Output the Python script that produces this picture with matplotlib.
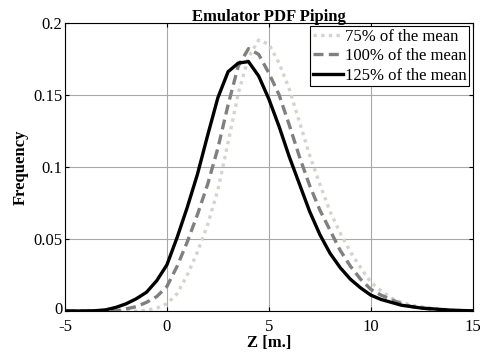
import matplotlib
matplotlib.use('Agg')
import matplotlib.pyplot as plt
import matplotlib.transforms as mtransforms

plt.rcParams['font.family'] = ['Liberation Serif', 'DejaVu Serif']

# valeurs
z = [-5, -4.5, -4, -3.5, -3, -2.5, -2, -1.5, -1, -0.5, 0, 0.5, 1, 1.5, 2, 2.5,
     3, 3.5, 4, 4.5, 5, 5.5, 6, 6.5, 7, 7.5, 8, 8.5, 9, 9.5, 10, 10.5, 11,
     11.5, 12, 12.5, 13, 13.5, 14, 14.5, 15]

f75 = [0, 0, 0, 0, 0, 0, 0, 0, 0.0005, 0.002, 0.005, 0.012, 0.025, 0.041,
       0.060, 0.084, 0.117, 0.151, 0.176, 0.188, 0.185, 0.172, 0.154, 0.131,
       0.108, 0.088, 0.069, 0.054, 0.041, 0.030, 0.020, 0.014, 0.009, 0.006,
       0.004, 0.003, 0.002, 0.0012, 0.0007, 0.0003, 0.0001]

f100 = [0, 0, 0, 0, 0, 0, 0.0015, 0.003, 0.006, 0.010, 0.017, 0.031, 0.048,
        0.067, 0.088, 0.113, 0.143, 0.170, 0.182, 0.178, 0.165, 0.150, 0.129,
        0.107, 0.087, 0.070, 0.056, 0.042, 0.031, 0.022, 0.015, 0.011, 0.008,
        0.005, 0.003, 0.002, 0.0012, 0.0007, 0.0004, 0.0002, 0.0001]

f125 = [0, 0, 0, 0.0002, 0.0008, 0.0025, 0.005, 0.0085, 0.013, 0.021, 0.032,
        0.051, 0.072, 0.095, 0.122, 0.148, 0.166, 0.172, 0.173, 0.163, 0.147,
        0.128, 0.107, 0.088, 0.069, 0.053, 0.040, 0.030, 0.022, 0.016, 0.011,
        0.008, 0.006, 0.004, 0.003, 0.002, 0.0015, 0.001, 0.0005, 0.0003,
        0.0001]

labels = ['75% of the mean', '100% of the mean', '125% of the mean']

fig = plt.figure(figsize=(4.81, 3.52), dpi=100)
ax = fig.add_axes([0.135, 0.1165, 0.848, 0.819])

ax.plot(z, f75, color='#d6d3cc', lw=2.4, linestyle=(0, (1, 1.3)), label=labels[0])
ax.plot(z, f100, color='#808080', lw=2.4, linestyle=(0, (3, 1.6)), label=labels[1])
ax.plot(z, f125, color='black', lw=2.4, label=labels[2])

ax.set_xlim(-5, 15)
ax.set_ylim(0, 0.2)
ax.set_xticks([-5, 0, 5, 10, 15])
ax.set_yticks([0, 0.05, 0.1, 0.15, 0.2])
ax.set_xticklabels(['-5', '0', '5', '10', '15'])
ax.set_yticklabels(['0', '0.05', '0.1', '0.15', '0.2'])
ax.grid(True, color='#a8a8a8', lw=0.8)
ax.tick_params(direction='in', top=True, right=True, labelsize=12, length=3)
ax.tick_params(axis='x', pad=6)
ax.tick_params(axis='y', pad=2)
for s in ax.spines.values():
    s.set_linewidth(0.8)

# petit decalage du "0" de l'axe y pour ne pas toucher le "-5"
lab0 = ax.get_yticklabels()[0]
lab0.set_transform(lab0.get_transform() +
                   mtransforms.ScaledTranslation(0, 2 / 72, fig.dpi_scale_trans))

ax.set_title('Emulator PDF Piping', fontsize=12, fontweight='bold', pad=1)
ax.set_xlabel('Z [m.]', fontsize=12, fontweight='bold', labelpad=0)
ax.set_ylabel('Frequency', fontsize=12, fontweight='bold', labelpad=3)

leg = ax.legend(loc='upper right', fontsize=12, fancybox=False, framealpha=1,
                edgecolor='black', handlelength=1.8, handletextpad=0.15,
                borderpad=0.15, labelspacing=0.22, borderaxespad=0.2)
leg.get_frame().set_linewidth(0.8)

fig.savefig('out.png', dpi=100)
